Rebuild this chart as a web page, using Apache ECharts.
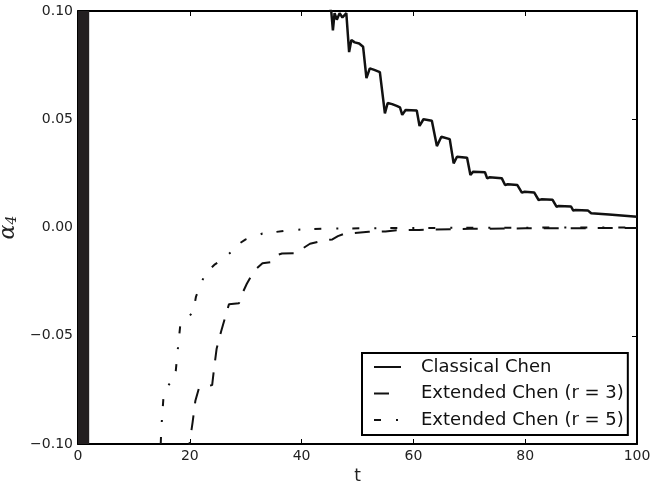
<!DOCTYPE html>
<html>
<head>
<meta charset="utf-8">
<script src="https://cdn.jsdelivr.net/npm/echarts@6/dist/echarts.min.js"></script>
<style>html,body{margin:0;padding:0;background:#fff;}#c{width:654px;height:483px;}</style>
</head>
<body>
<div id="c"></div>
<script>
// ---- data ----
const seriesNames = ['Classical Chen', 'Extended Chen (r = 3)', 'Extended Chen (r = 5)'];
const xTicks = [0, 20, 40, 60, 80, 100];
const yTicks = [-0.10, -0.05, 0.00, 0.05, 0.10];
const blowUpBand = [0, 2];   // t range where all solutions oscillate wildly (solid black band)

const classicalT = [43, 45.3, 45.6, 45.9, 46.3, 46.8, 47.3, 48.0, 48.5, 48.9, 49.5, 50.3, 51.0, 51.6, 52.2, 53.0, 54.0, 54.9, 55.4, 56.2, 57.0, 57.6, 58.0, 58.6, 60.6, 61.1, 61.8, 63.3, 64.2, 65.0, 66.5, 67.2, 67.8, 69.6, 70.2, 70.7, 72.8, 73.2, 73.6, 75.8, 76.4, 76.9, 78.6, 79.4, 79.9, 81.6, 82.4, 82.9, 84.9, 85.6, 86.0, 88.2, 88.6, 89.0, 91.2, 91.8, 95, 100];
const classicalY = [0.115, 0.100, 0.091, 0.099, 0.096, 0.099, 0.097, 0.099, 0.081, 0.0866, 0.0855, 0.085, 0.0835, 0.069, 0.0735, 0.0728, 0.0718, 0.0527, 0.0575, 0.057, 0.0562, 0.0555, 0.052, 0.0543, 0.0540, 0.0469, 0.0500, 0.0493, 0.0376, 0.0419, 0.0408, 0.0296, 0.0327, 0.0322, 0.0243, 0.0258, 0.0255, 0.0227, 0.0232, 0.0228, 0.0196, 0.0200, 0.0196, 0.0161, 0.0165, 0.0162, 0.0127, 0.0130, 0.0128, 0.0096, 0.0099, 0.0097, 0.0078, 0.0081, 0.0079, 0.0066, 0.0060, 0.0050];

const ext3T = [19.7, 20.0, 20.5, 21.0, 21.6, 22.5, 24.0, 24.3, 24.8, 25.6, 26.5, 27.0, 28.8, 29.3, 30.2, 31.5, 33.0, 34.5, 35.5, 36.5, 39.2, 40.3, 41.5, 43.6, 45.5, 46.5, 47.5, 49.0, 52.0, 55, 57, 61, 70, 80, 100];
const ext3Y = [-0.106, -0.099, -0.090, -0.080, -0.0745, -0.0735, -0.0728, -0.066, -0.056, -0.048, -0.040, -0.0355, -0.0350, -0.031, -0.026, -0.020, -0.0165, -0.0160, -0.0128, -0.0120, -0.0118, -0.0095, -0.0075, -0.0062, -0.0055, -0.0040, -0.0030, -0.0027, -0.0020, -0.0018, -0.0013, -0.0011, -0.0006, -0.0004, -0.0002];

const ext5T = [14.8, 14.9, 15.3, 16.0, 17.0, 17.5, 17.9, 18.3, 19.5, 20.6, 21.1, 21.8, 22.5, 23.5, 24.5, 26.0, 27.5, 28.5, 30.0, 31.5, 33.0, 35, 37, 40, 45, 55, 70, 100];
const ext5Y = [-0.100, -0.093, -0.078, -0.0735, -0.070, -0.066, -0.055, -0.045, -0.042, -0.039, -0.032, -0.027, -0.023, -0.0195, -0.017, -0.0145, -0.011, -0.008, -0.0055, -0.0042, -0.0028, -0.0022, -0.0015, -0.0009, -0.0005, -0.0003, -0.0001, 0];

function zip(a, b) { return a.map((v, i) => [v, b[i]]); }

const FONT = 'DejaVu Sans';
const INK = '#111';
const chart = echarts.init(document.getElementById('c'), null, {renderer: 'canvas'});

const fmtY = v => {
  const s = Math.abs(v).toFixed(2);
  return v < -1e-9 ? '\u2212' + s : s;
};

const axisCommon = {
  axisLine: {show: true, onZero: false, lineStyle: {color: '#000', width: 2}},
  axisTick: {show: true, inside: true, length: 5, lineStyle: {color: '#000', width: 1}},
  splitLine: {show: false}
};

chart.setOption({
  animation: false,
  backgroundColor: '#fff',
  grid: {left: 78, right: 17, top: 11, bottom: 39, containLabel: false, outerBoundsMode: 'none'},
  xAxis: [
    Object.assign({
      type: 'value', min: xTicks[0], max: xTicks[xTicks.length - 1], interval: xTicks[1] - xTicks[0],
      position: 'bottom',
      name: 't', nameLocation: 'middle', nameGap: 21,
      nameTextStyle: {fontFamily: FONT, fontSize: 17, color: '#222'},
      axisLabel: {fontFamily: FONT, fontSize: 14, color: '#222', margin: 5}
    }, axisCommon),
    Object.assign({
      type: 'value', min: xTicks[0], max: xTicks[xTicks.length - 1], interval: xTicks[1] - xTicks[0],
      position: 'top', axisLabel: {show: false}
    }, axisCommon)
  ],
  yAxis: [
    Object.assign({
      type: 'value', min: yTicks[0], max: yTicks[yTicks.length - 1], interval: yTicks[1] - yTicks[0],
      position: 'left',
      name: '{a|α}{b|4}', nameLocation: 'middle', nameGap: 45, nameRotate: 90,
      nameTextStyle: {
        rich: {
          a: {fontFamily: 'DejaVu Serif', fontStyle: 'italic', fontSize: 22, color: '#222'},
          b: {fontFamily: 'DejaVu Serif', fontStyle: 'italic', fontSize: 14, color: '#222', verticalAlign: 'bottom', padding: [8, 0, 0, 0]}
        }
      },
      axisLabel: {fontFamily: FONT, fontSize: 14, color: '#222', margin: 5, formatter: fmtY}
    }, axisCommon),
    Object.assign({
      type: 'value', min: yTicks[0], max: yTicks[yTicks.length - 1], interval: yTicks[1] - yTicks[0],
      position: 'right', axisLabel: {show: false}
    }, axisCommon)
  ],
  legend: {
    orient: 'vertical', left: 362, top: 353,
    data: seriesNames,
    itemWidth: 27, itemHeight: 18, itemGap: 8.5,
    padding: [5, 4, 6, 11],
    borderColor: '#000', borderWidth: 2, borderRadius: 0,
    backgroundColor: '#fff',
    itemStyle: {opacity: 0, borderWidth: 0},
    textStyle: {fontFamily: FONT, fontSize: 18, color: '#111', padding: [0, 0, 0, 15]}
  },
  series: [
    {
      name: seriesNames[0], type: 'line', data: zip(classicalT, classicalY),
      symbol: 'none', showSymbol: false, clip: true,
      lineStyle: {color: INK, width: 2.5, type: 'solid'}, itemStyle: {color: INK},
      markArea: {
        silent: true,
        itemStyle: {color: '#231f20', opacity: 1},
        data: [[{xAxis: blowUpBand[0]}, {xAxis: blowUpBand[1]}]]
      }
    },
    {
      name: seriesNames[1], type: 'line', data: zip(ext3T, ext3Y),
      symbol: 'none', showSymbol: false, clip: true,
      lineStyle: {color: INK, width: 2, type: [15, 12]}, itemStyle: {color: INK}
    },
    {
      name: seriesNames[2], type: 'line', data: zip(ext5T, ext5Y),
      symbol: 'none', showSymbol: false, clip: true,
      lineStyle: {color: INK, width: 2, type: [7, 15, 2, 14]}, itemStyle: {color: INK}
    }
  ]
});
</script>
</body>
</html>
